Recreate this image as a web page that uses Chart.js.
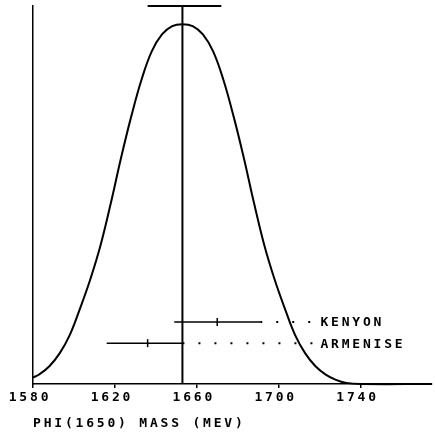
<!DOCTYPE html>
<html>
<head>
<meta charset="utf-8">
<script src="https://cdn.jsdelivr.net/npm/chart.js@4"></script>
<style>
  body { margin: 0; background: #fff; }
  canvas { display: block; }
</style>
</head>
<body>
<canvas id="ideogram" width="435" height="433"></canvas>
<script>
// valores
const massTicks = [1580, 1620, 1660, 1700, 1740];
const curveMass  = [1580, 1583, 1588, 1593, 1598, 1603, 1608, 1613, 1618, 1623, 1628, 1633, 1638, 1643, 1648, 1653,
                    1658, 1663, 1668, 1673, 1678, 1683, 1688, 1693, 1698, 1703, 1708, 1713, 1718, 1723, 1728, 1733, 1740, 1775];
const curveValue = [0.017, 0.025, 0.047, 0.081, 0.130, 0.200, 0.277, 0.367, 0.478, 0.598, 0.708, 0.805, 0.880, 0.925, 0.947, 0.952,
                    0.947, 0.925, 0.880, 0.805, 0.708, 0.598, 0.478, 0.367, 0.277, 0.200, 0.130, 0.081, 0.047, 0.025, 0.011, 0.003, 0, 0];
const fitMass = 1653;
const fitErrLow = 17;
const fitErrHigh = 19;
const measNames = ['KENYON', 'ARMENISE'];
const measMass  = [1670, 1636];
const measLow   = [1649, 1616];
const measHigh  = [1691, 1653];

const labelMass = 1718;   // fim das linhas pontilhadas
const rowBase = 0.108;
const rowStep = 0.056;
const fontTxt = { family: 'DejaVu Sans Mono', size: 13, weight: 'bold' };
const spacing = '2.8px';

function rowOf(i) { return rowBase + (measNames.length - 1 - i) * rowStep; }

const datasets = [];
datasets.push({
  data: curveMass.map((m, i) => ({ x: m, y: curveValue[i] })),
  borderColor: '#000', borderWidth: 2, pointRadius: 0,
  tension: 0.4, showLine: true
});
datasets.push({
  data: [{ x: fitMass, y: 0 }, { x: fitMass, y: 1 }],
  borderColor: '#000', borderWidth: 2, pointRadius: 0, showLine: true
});
datasets.push({
  data: [{ x: fitMass - fitErrLow, y: 1 }, { x: fitMass + fitErrHigh, y: 1 }],
  borderColor: '#000', borderWidth: 2, pointRadius: 0, showLine: true
});
measNames.forEach((n, i) => {
  const r = rowOf(i);
  datasets.push({
    data: [{ x: measLow[i], y: r }, { x: measHigh[i], y: r }],
    borderColor: '#000', borderWidth: 1.5, pointRadius: 0, showLine: true
  });
  datasets.push({
    data: [{ x: measHigh[i], y: r }, { x: labelMass, y: r }],
    borderColor: '#000', borderWidth: 2, borderDash: [2, 14], borderDashOffset: 0,
    pointRadius: 0, showLine: true
  });
  datasets.push({
    data: [{ x: measMass[i], y: r }],
    pointStyle: 'line', rotation: 90, radius: 4, borderColor: '#000', borderWidth: 1.5, showLine: false
  });
});

const letterSpacingPlugin = {
  id: 'letterSpacing',
  beforeLayout(chart) { chart.ctx.letterSpacing = spacing; },
  beforeDraw(chart) { chart.ctx.letterSpacing = spacing; }
};

const measLabels = {
  id: 'measLabels',
  afterDatasetsDraw(chart) {
    const ctx = chart.ctx;
    const xs = chart.scales.x, ys = chart.scales.y;
    ctx.save();
    ctx.letterSpacing = spacing;
    ctx.font = 'bold 13px "DejaVu Sans Mono"';
    ctx.fillStyle = '#000';
    ctx.textAlign = 'left';
    ctx.textBaseline = 'middle';
    measNames.forEach((n, i) => {
      ctx.fillText(n, xs.getPixelForValue(labelMass) + 5, ys.getPixelForValue(rowOf(i)) + 1);
    });
    ctx.restore();
  }
};

new Chart(document.getElementById('ideogram'), {
  type: 'scatter',
  data: { datasets: datasets },
  plugins: [letterSpacingPlugin, measLabels],
  options: {
    responsive: false,
    animation: false,
    clip: false,
    layout: { padding: { left: 33, top: 6, right: 0, bottom: 0 } },
    plugins: { legend: { display: false }, tooltip: { enabled: false } },
    scales: {
      x: {
        type: 'linear', min: 1580, max: 1773.7,
        afterBuildTicks: (s) => { s.ticks = massTicks.map(v => ({ value: v })); },
        afterFit: (s) => { s.height = 49; },
        border: { display: true, color: '#000', width: 1.5 },
        grid: { display: true, drawOnChartArea: false, color: '#000', tickLength: 4, lineWidth: 1.5 },
        ticks: { color: '#000', font: fontTxt, padding: 2, labelOffset: -3, maxRotation: 0, autoSkip: false,
                 callback: (v) => String(v) },
        title: { display: true, text: 'PHI(1650) MASS (MEV)', align: 'start', color: '#000', font: fontTxt, padding: { top: 0, bottom: 2 } }
      },
      y: {
        min: 0, max: 1,
        afterFit: (s) => { s.width = 0; },
        border: { display: true, color: '#000', width: 1.5 },
        grid: { display: true, drawOnChartArea: false, drawTicks: false },
        ticks: { display: false }
      }
    }
  }
});
</script>
</body>
</html>
